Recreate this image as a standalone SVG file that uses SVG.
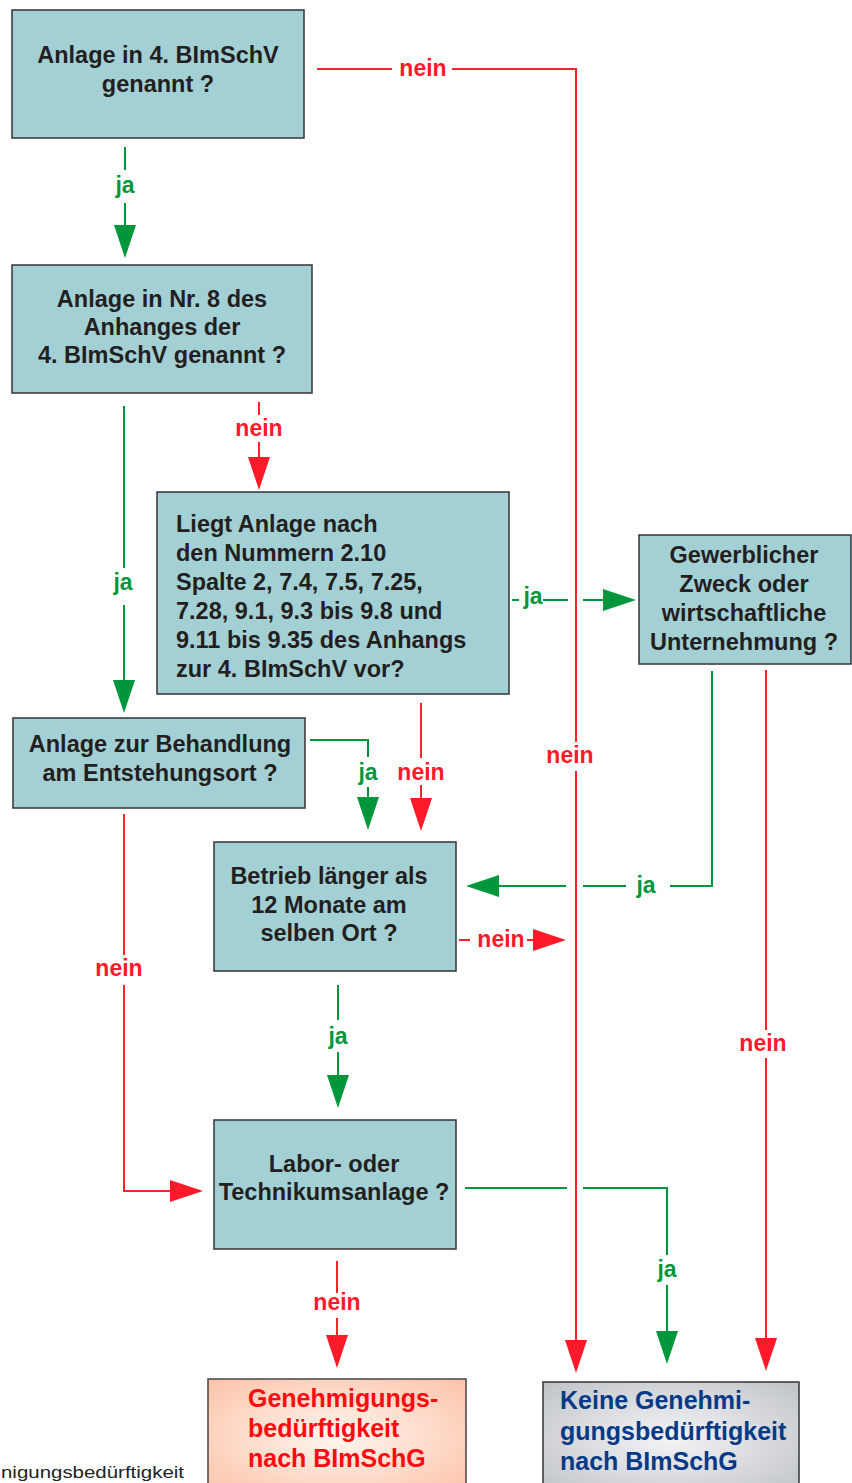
<svg xmlns="http://www.w3.org/2000/svg" width="852" height="1483" viewBox="0 0 852 1483">
<style>
.box{fill:#a2d0d5;stroke:#333;stroke-width:1.5}
.bt{font-family:"Liberation Sans",Arial,sans-serif;font-weight:bold;font-size:23.5px;fill:#231f20}
.c{text-anchor:middle}
.g{fill:none;stroke:#00963c;stroke-width:2}
.r{fill:none;stroke:#ff2028;stroke-width:2}
.lg{font-family:"Liberation Sans",Arial,sans-serif;font-weight:bold;font-size:23px;fill:#00963c;text-anchor:middle}
.lr{font-family:"Liberation Sans",Arial,sans-serif;font-weight:bold;font-size:23px;fill:#ff1a2a;text-anchor:middle}
.big{font-family:"Liberation Sans",Arial,sans-serif;font-weight:bold;font-size:25px}
</style>
<defs>
<marker id="ag" markerUnits="userSpaceOnUse" markerWidth="34" markerHeight="24" refX="0" refY="11" orient="auto" overflow="visible"><path d="M0,0 L33,11 L0,22 Z" fill="#00963c"/></marker>
<marker id="ar" markerUnits="userSpaceOnUse" markerWidth="34" markerHeight="24" refX="0" refY="11" orient="auto" overflow="visible"><path d="M0,0 L33,11 L0,22 Z" fill="#ff1a2a"/></marker>
<radialGradient id="gs" cx="0.5" cy="0.5" r="0.7"><stop offset="0" stop-color="#fff6f0"/><stop offset="1" stop-color="#fcc3a8"/></radialGradient>
<radialGradient id="gg" cx="0.5" cy="0.5" r="0.7"><stop offset="0" stop-color="#f4f4f6"/><stop offset="1" stop-color="#bfc3c8"/></radialGradient>
</defs>

<g id="connectors">
<path class="g" d="M125,147 V170"/>
<path class="g" d="M125,203 V225" marker-end="url(#ag)"/>
<text class="lg" x="125" y="193">ja</text>

<path class="r" d="M317,69 H392"/>
<path class="r" d="M452,69 H576 V742"/>
<text class="lr" x="423" y="76">nein</text>
<path class="r" d="M576,771 V1340" marker-end="url(#ar)"/>
<text class="lr" x="570" y="763">nein</text>

<path class="g" d="M124,406 V568"/>
<text class="lg" x="123" y="590">ja</text>
<path class="g" d="M124,605 V680" marker-end="url(#ag)"/>

<path class="r" d="M259,402 V415"/>
<text class="lr" x="259" y="436">nein</text>
<path class="r" d="M259,442 V457" marker-end="url(#ar)"/>

<path class="g" d="M512,600 H519"/>
<text class="lg" x="533" y="604">ja</text>
<path class="g" d="M543,600 H568"/>
<path class="g" d="M583,600 H603" marker-end="url(#ag)"/>

<path class="g" d="M712,671 V886 H670"/>
<text class="lg" x="646" y="893">ja</text>
<path class="g" d="M626,886 H583"/>
<path class="g" d="M566,886 H499" marker-end="url(#ag)"/>

<path class="g" d="M310,740 H368 V757"/>
<text class="lg" x="368" y="780">ja</text>
<path class="g" d="M368,787 V797" marker-end="url(#ag)"/>

<path class="r" d="M421,703 V758"/>
<text class="lr" x="421" y="780">nein</text>
<path class="r" d="M421,785 V798" marker-end="url(#ar)"/>

<path class="r" d="M459,940 H470"/>
<text class="lr" x="501" y="947">nein</text>
<path class="r" d="M527,940 H533" marker-end="url(#ar)"/>

<path class="r" d="M124,814 V955"/>
<text class="lr" x="119" y="976">nein</text>
<path class="r" d="M124,985 V1191 H170" marker-end="url(#ar)"/>

<path class="r" d="M766,670 V1030"/>
<text class="lr" x="763" y="1051">nein</text>
<path class="r" d="M766,1058 V1338" marker-end="url(#ar)"/>

<path class="g" d="M338,985 V1020"/>
<text class="lg" x="338" y="1044">ja</text>
<path class="g" d="M338,1052 V1075" marker-end="url(#ag)"/>

<path class="g" d="M465,1188 H567"/>
<path class="g" d="M583,1188 H667 V1255"/>
<text class="lg" x="667" y="1277">ja</text>
<path class="g" d="M667,1285 V1331" marker-end="url(#ag)"/>

<path class="r" d="M337,1261 V1293"/>
<text class="lr" x="337" y="1310">nein</text>
<path class="r" d="M337,1318 V1335" marker-end="url(#ar)"/>
</g>

<g id="n1">
<rect class="box" x="12" y="10" width="292" height="128"/>
<text class="bt c" x="158" y="63">Anlage in 4. BImSchV</text>
<text class="bt c" x="158" y="92">genannt ?</text>
</g>

<g id="n2">
<rect class="box" x="12" y="265" width="300" height="128"/>
<text class="bt c" x="162" y="307">Anlage in Nr. 8 des</text>
<text class="bt c" x="162" y="335">Anhanges der</text>
<text class="bt c" x="162" y="363">4. BImSchV genannt ?</text>
</g>

<g id="n3">
<rect class="box" x="157" y="492" width="352" height="202"/>
<text class="bt" x="176" y="532">Liegt Anlage nach</text>
<text class="bt" x="176" y="561">den Nummern 2.10</text>
<text class="bt" x="176" y="590">Spalte 2, 7.4, 7.5, 7.25,</text>
<text class="bt" x="176" y="619">7.28, 9.1, 9.3 bis 9.8 und</text>
<text class="bt" x="176" y="648">9.11 bis 9.35 des Anhangs</text>
<text class="bt" x="176" y="677">zur 4. BImSchV vor?</text>
</g>

<g id="n4">
<rect class="box" x="639" y="535" width="212" height="129"/>
<text class="bt c" x="744" y="563">Gewerblicher</text>
<text class="bt c" x="744" y="592">Zweck oder</text>
<text class="bt c" x="744" y="621">wirtschaftliche</text>
<text class="bt c" x="744" y="650">Unternehmung ?</text>
</g>

<g id="n5">
<rect class="box" x="13" y="718" width="292" height="90"/>
<text class="bt c" x="160" y="752">Anlage zur Behandlung</text>
<text class="bt c" x="160" y="781">am Entstehungsort ?</text>
</g>

<g id="n6">
<rect class="box" x="214" y="842" width="242" height="129"/>
<text class="bt c" x="329" y="884">Betrieb länger als</text>
<text class="bt c" x="329" y="913">12 Monate am</text>
<text class="bt c" x="329" y="941">selben Ort ?</text>
</g>

<g id="n7">
<rect class="box" x="214" y="1120" width="242" height="129"/>
<text class="bt c" x="334" y="1172">Labor- oder</text>
<text class="bt c" x="334" y="1200">Technikumsanlage ?</text>
</g>

<g id="n8">
<rect x="208" y="1379" width="258" height="115" fill="url(#gs)" stroke="#444" stroke-width="1.5"/>
<text class="big" x="248" y="1407" fill="#ff0a10">Genehmigungs-</text>
<text class="big" x="248" y="1437" fill="#ff0a10">bedürftigkeit</text>
<text class="big" x="248" y="1467" fill="#ff0a10">nach BImSchG</text>
</g>

<g id="n9">
<rect x="543" y="1382" width="256" height="112" fill="url(#gg)" stroke="#333" stroke-width="1.5"/>
<text class="big" x="560" y="1409" fill="#063a86">Keine Genehmi-</text>
<text class="big" x="560" y="1440" fill="#063a86">gungsbedürftigkeit</text>
<text class="big" x="560" y="1470" fill="#063a86">nach BImSchG</text>
</g>

<text x="1" y="1478" font-family="Liberation Sans, Arial, sans-serif" font-size="16" fill="#222" textLength="183" lengthAdjust="spacingAndGlyphs">nigungsbedürftigkeit</text>
</svg>
